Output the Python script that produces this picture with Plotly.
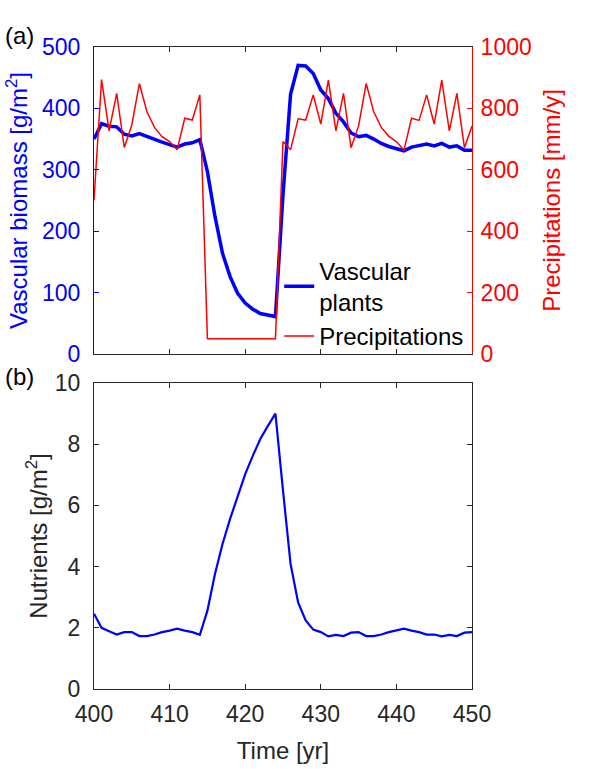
import plotly.graph_objects as go

years = list(range(400, 451))

vascular_biomass = [350, 375, 371, 370, 358, 355, 359, 354, 349, 345, 341,
                    337, 342, 344, 349, 297, 224, 164, 126, 99, 83,
                    73, 66, 63, 61, 260, 423, 470, 469, 457, 430,
                    416, 392, 378, 360, 354, 356, 350, 343, 338, 334,
                    331, 337, 339, 342, 339, 343, 337, 339, 332, 332]

precipitations = [502, 894, 727, 849, 673, 746, 881, 789, 738, 708, 692,
                  665, 768, 762, 844, 50, 50, 50, 50, 50, 50,
                  50, 50, 50, 50, 692, 665, 766, 762, 844, 749,
                  892, 727, 849, 672, 743, 881, 789, 738, 709, 692,
                  664, 768, 761, 844, 749, 892, 727, 849, 672, 743]

nutrients = [2.46, 2.00, 1.89, 1.78, 1.86, 1.86, 1.73, 1.73, 1.78, 1.86, 1.91,
             1.97, 1.91, 1.86, 1.77, 2.56, 3.76, 4.74, 5.56, 6.32, 7.02,
             7.62, 8.17, 8.60, 9.00, 6.48, 4.09, 2.83, 2.24, 1.94, 1.86,
             1.72, 1.77, 1.73, 1.84, 1.86, 1.73, 1.73, 1.78, 1.86, 1.91,
             1.97, 1.91, 1.86, 1.78, 1.78, 1.72, 1.77, 1.73, 1.84, 1.86]

x_ticks = [400, 410, 420, 430, 440, 450]
biomass_ticks = [0, 100, 200, 300, 400, 500]
precip_ticks = [0, 200, 400, 600, 800, 1000]
nutrient_ticks = [0, 2, 4, 6, 8, 10]

FONT = "Liberation Sans, Arial, sans-serif"
DARK = "#262626"
BLUE = "#0000FF"
RED = "#FF0000"
TICK = 23
TITLE = 24

fig = go.Figure()
fig.add_trace(go.Scatter(x=years, y=vascular_biomass, mode="lines",
                         name="Vascular<br>plants", line=dict(color=BLUE, width=3.5),
                         xaxis="x", yaxis="y"))
fig.add_trace(go.Scatter(x=years, y=precipitations, mode="lines",
                         name="Precipitations", line=dict(color=RED, width=1.5),
                         xaxis="x", yaxis="y2"))
fig.add_trace(go.Scatter(x=years, y=nutrients, mode="lines",
                         name="Nutrients", line=dict(color=BLUE, width=2.2),
                         showlegend=False, xaxis="x2", yaxis="y3"))

top_dom = [0.5218, 1.0]
bot_dom = [0.0, 0.4766]

common_x = dict(range=[400, 450], tickvals=x_ticks, automargin=False,
                showgrid=False, zeroline=False, showline=True, linecolor=DARK,
                linewidth=1, ticks="inside", ticklen=5, tickcolor=DARK,
                mirror="ticks")

fig.update_layout(
    width=590, height=769,
    margin=dict(l=94, r=118, t=47, b=80, autoexpand=False),
    paper_bgcolor="white", plot_bgcolor="white",
    font=dict(family=FONT, size=TICK, color=DARK),
    xaxis=dict(common_x, domain=[0, 1], anchor="y", showticklabels=False),
    xaxis2=dict(common_x, domain=[0, 1], anchor="y3",
                tickfont=dict(size=TICK, color=DARK), ticklabelstandoff=4,
                title=dict(text="Time [yr]", font=dict(size=TITLE, color=DARK), standoff=16)),
    yaxis=dict(domain=top_dom, range=[0, 500], tickvals=biomass_ticks, automargin=False,
               anchor="x", showgrid=False, zeroline=False, showline=True,
               linecolor=BLUE, linewidth=1, ticks="inside", ticklen=5, tickcolor=BLUE,
               tickfont=dict(size=TICK, color=BLUE), ticklabelstandoff=8,
               title=dict(text="Vascular biomass [g/m<sup>2</sup>]",
                          font=dict(size=TITLE, color=BLUE), standoff=7)),
    yaxis2=dict(domain=top_dom, range=[0, 1000], tickvals=precip_ticks, automargin=False,
                anchor="x", overlaying="y", side="right", showgrid=False, zeroline=False,
                showline=True, linecolor=RED, linewidth=1, ticks="inside", ticklen=5,
                tickcolor=RED, tickfont=dict(size=TICK, color=RED), ticklabelstandoff=3,
                title=dict(text="Precipitations [mm/y]", font=dict(size=TITLE, color=RED),
                           standoff=12)),
    yaxis3=dict(domain=bot_dom, range=[0, 10], tickvals=nutrient_ticks, automargin=False,
                anchor="x2", showgrid=False, zeroline=False, showline=True,
                linecolor=DARK, linewidth=1, ticks="inside", ticklen=5, tickcolor=DARK,
                mirror="ticks", tickfont=dict(size=TICK, color=DARK), ticklabelstandoff=8,
                title=dict(text="Nutrients [g/m<sup>2</sup>]",
                           font=dict(size=TITLE, color=DARK), standoff=0)),
    legend=dict(x=0.49, y=0.686, xanchor="left", yanchor="top",
                bgcolor="rgba(0,0,0,0)", borderwidth=0,
                font=dict(size=TITLE, color="black", family=FONT)),
    showlegend=True,
)

fig.add_annotation(text="(a)", xref="paper", yref="paper",
                   x=-(94 - 19) / 378, y=1 + (47 - 35) / 642,
                   showarrow=False, xanchor="center", yanchor="middle",
                   font=dict(size=TITLE, color="black"))
fig.add_annotation(text="(b)", xref="paper", yref="paper",
                   x=-(94 - 19) / 378, y=1 - (377 - 47) / 642,
                   showarrow=False, xanchor="center", yanchor="middle",
                   font=dict(size=TITLE, color="black"))

fig.write_html("out.html")
